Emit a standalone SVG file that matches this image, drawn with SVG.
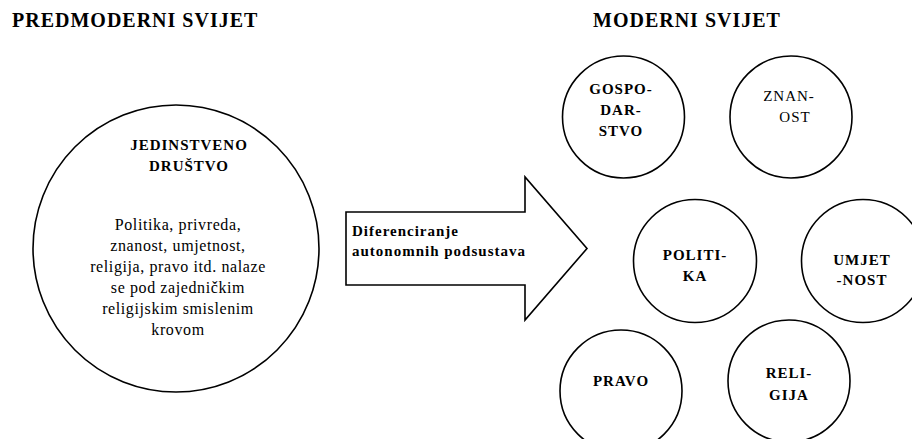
<svg xmlns="http://www.w3.org/2000/svg" width="912" height="439" viewBox="0 0 912 439">
<style>
  .c { fill: #fff; stroke: #000; stroke-width: 1.6; }
  .t { font-family: "Liberation Serif", "Times New Roman", serif; fill: #000; }
  .title { font-size: 20px; font-weight: bold; letter-spacing: 1px; }
  .b15 { font-size: 15px; font-weight: bold; letter-spacing: 1px; text-anchor: middle; }
  .r15 { font-size: 15px; letter-spacing: 1px; text-anchor: middle; }
  .body { font-size: 16px; letter-spacing: 0.6px; text-anchor: middle; }
  .arr { font-size: 15px; font-weight: bold; letter-spacing: 1px; }
</style>
<rect width="912" height="439" fill="#fff"/>
<text class="t title" x="12" y="27">PREDMODERNI SVIJET</text>
<text class="t title" x="593" y="27">MODERNI SVIJET</text>

<g id="jedinstveno">
  <ellipse class="c" cx="176" cy="248.5" rx="143" ry="143.5"/>
  <text class="t b15" x="189" y="150">JEDINSTVENO</text>
  <text class="t b15" x="189" y="171">DRUŠTVO</text>
  <text class="t body" x="178" y="230">Politika, privreda,</text>
  <text class="t body" x="178" y="251">znanost, umjetnost,</text>
  <text class="t body" x="178" y="272">religija, pravo itd. nalaze</text>
  <text class="t body" x="178" y="293">se pod zajedničkim</text>
  <text class="t body" x="178" y="314">religijskim smislenim</text>
  <text class="t body" x="178" y="335">krovom</text>
</g>

<g id="connectors">
  <g id="arrow">
    <path class="c" d="M346,212 L525,212 L525,177 L587,248.5 L525,320 L525,285 L346,285 Z"/>
    <text class="t arr" x="352" y="236">Diferenciranje</text>
    <text class="t arr" x="352" y="256">autonomnih podsustava</text>
  </g>
</g>

<g id="gospodarstvo">
  <circle class="c" cx="623.5" cy="117" r="61"/>
  <text class="t b15" x="621" y="94">GOSPO-</text>
  <text class="t b15" x="621" y="115">DAR-</text>
  <text class="t b15" x="621" y="136">STVO</text>
</g>
<g id="znanost">
  <circle class="c" cx="791" cy="117" r="61"/>
  <text class="t r15" x="789" y="101">ZNAN-</text>
  <text class="t r15" x="795" y="122">OST</text>
</g>
<g id="politika">
  <circle class="c" cx="695" cy="261" r="61.5"/>
  <text class="t b15" x="695" y="260">POLITI-</text>
  <text class="t b15" x="695" y="281">KA</text>
</g>
<g id="umjetnost">
  <circle class="c" cx="863" cy="261" r="61.5"/>
  <text class="t b15" x="862" y="265">UMJET</text>
  <text class="t b15" x="862" y="285">-NOST</text>
</g>
<g id="pravo">
  <circle class="c" cx="621" cy="391" r="61"/>
  <text class="t b15" x="621" y="386">PRAVO</text>
</g>
<g id="religija">
  <circle class="c" cx="789" cy="381" r="61"/>
  <text class="t b15" x="789" y="378">RELI-</text>
  <text class="t b15" x="789" y="400">GIJA</text>
</g>
</svg>
